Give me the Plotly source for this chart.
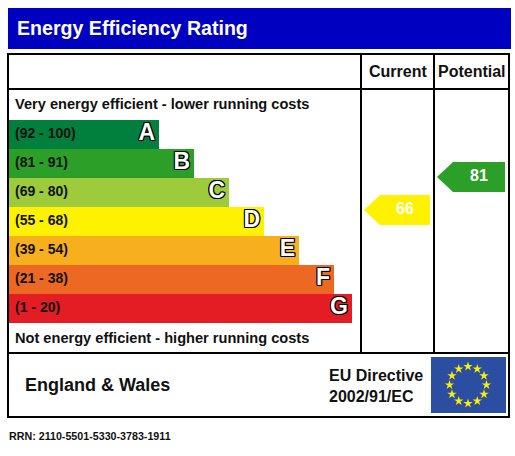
import math
import plotly.graph_objects as go

# ---- data ----
bands = ["A", "B", "C", "D", "E", "F", "G"]
band_ranges = ["(92 - 100)", "(81 - 91)", "(69 - 80)", "(55 - 68)",
               "(39 - 54)", "(21 - 38)", "(1 - 20)"]
band_colors = ["#007f3d", "#2c9f29", "#9dcb3c", "#fff200",
               "#f7af1d", "#ed6823", "#e31d23"]
columns = ["Current", "Potential"]
scores = [66, 81]
score_colors = ["#fff200", "#2c9f29"]
title = "Energy Efficiency Rating"
top_note = "Very energy efficient - lower running costs"
bottom_note = "Not energy efficient - higher running costs"
region = "England & Wales"
directive = ["EU Directive", "2002/91/EC"]
rrn = "RRN: 2110-5501-5330-3783-1911"

W, H = 515, 456
FONT = "Liberation Sans, Arial, sans-serif"

# band bar extents (pixels)
bar_left = 9
bar_ends = [min(159 + 35 * i, 352) for i in range(len(bands))]
bar_len = [e - bar_left for e in bar_ends]

# column boundaries
col_x = [361, 434, 509]

fig = go.Figure()

# rating bands
fig.add_trace(go.Bar(
    orientation="h", y=bands, x=bar_len, base=bar_left,
    xaxis="x", yaxis="y2", width=0.97,
    marker=dict(color=band_colors, line=dict(width=0)),
    hoverinfo="skip", showlegend=False,
))
fig.add_trace(go.Scatter(
    x=[bar_left + 6] * len(bands), y=bands, xaxis="x", yaxis="y2",
    mode="text", text=band_ranges, textposition="middle right",
    textfont=dict(family=FONT, size=14, color="#111111", weight="bold"),
    hoverinfo="skip", showlegend=False,
))
fig.add_trace(go.Scatter(
    x=[e - 4 for e in bar_ends], y=bands, xaxis="x", yaxis="y2",
    mode="text", text=bands, textposition="middle left",
    textfont=dict(family=FONT, size=23, color="white", weight="bold",
                  shadow="1px 1px 0 #000, -1px -1px 0 #000, 1px -1px 0 #000, -1px 1px 0 #000, 0 1px 0 #000, 0 -1px 0 #000, 1px 0 0 #000, -1px 0 0 #000"),
    hoverinfo="skip", showlegend=False,
))

# score arrows on the score axis
half = 15 / 2.2
for i, (s, c) in enumerate(zip(scores, score_colors)):
    tip = col_x[i] + 3
    notch = tip + 16
    right = col_x[i + 1] - 4
    fig.add_trace(go.Scatter(
        x=[tip, notch, right, right, notch, tip],
        y=[s, s + half, s + half, s - half, s - half, s],
        xaxis="x", yaxis="y3", mode="lines", fill="toself",
        fillcolor=c, line=dict(width=0, color=c),
        hoverinfo="skip", showlegend=False,
    ))
    fig.add_trace(go.Scatter(
        x=[(notch + right) / 2], y=[s], xaxis="x", yaxis="y3",
        mode="text", text=[str(s)], textposition="middle center",
        textfont=dict(family=FONT, size=16, color="white", weight="bold"),
        hoverinfo="skip", showlegend=False,
    ))

# EU flag stars
cx, cy, r = 468, 385, 18.5
fig.add_trace(go.Scatter(
    x=[cx + r * math.sin(k * math.pi / 6) for k in range(12)],
    y=[cy - r * math.cos(k * math.pi / 6) for k in range(12)],
    xaxis="x", yaxis="y", mode="markers",
    marker=dict(symbol="star", size=7, color="#ffed00", line=dict(width=0)),
    hoverinfo="skip", showlegend=False,
))

line = dict(color="black", width=2)
shapes = [
    dict(type="rect", x0=8, x1=511, y0=8, y1=49, fillcolor="#0000c0",
         line=dict(width=0), layer="below"),
    dict(type="rect", x0=8, x1=509, y0=54, y1=417, line=line),
    dict(type="line", x0=8, x1=509, y0=89, y1=89, line=line),
    dict(type="line", x0=8, x1=509, y0=353, y1=353, line=line),
    dict(type="line", x0=col_x[0], x1=col_x[0], y0=54, y1=353, line=line),
    dict(type="line", x0=col_x[1], x1=col_x[1], y0=54, y1=353, line=line),
    dict(type="rect", x0=431, x1=506, y0=357, y1=413, fillcolor="#2c4ea0",
         line=dict(width=0), layer="below"),
]
for s in shapes:
    s.update(xref="x", yref="y")


def label(text, x, y, size, color="#111111", anchor="left"):
    return dict(text=text, x=x, y=y, xref="x", yref="y", showarrow=False,
                xanchor=anchor, yanchor="middle",
                font=dict(family=FONT, size=size, color=color, weight="bold"))


annotations = [
    label(title, 15, 28, 19.6, "white"),
    label(columns[0], (col_x[0] + col_x[1]) / 2, 71, 16, anchor="center"),
    label(columns[1], (col_x[1] + col_x[2]) / 2, 71, 16, anchor="center"),
    label(top_note, 13, 104, 14.6),
    label(bottom_note, 13, 338, 14.6),
    label(region, 23, 385, 18),
    label(directive[0], 327, 375, 16),
    label(directive[1], 327, 396, 16),
    label(rrn, 7, 436, 10.7),
]

hidden = dict(visible=False, showgrid=False, zeroline=False, fixedrange=True)
fig.update_layout(
    width=W, height=H, margin=dict(l=0, r=0, t=0, b=0),
    paper_bgcolor="white", plot_bgcolor="rgba(0,0,0,0)",
    xaxis=dict(range=[0, W], domain=[0, 1], **hidden),
    yaxis=dict(range=[H, 0], domain=[0, 1], **hidden),
    yaxis2=dict(type="category", categoryorder="array", categoryarray=bands,
                range=[len(bands) - 0.5, -0.5],
                domain=[(H - 323) / H, (H - 120) / H], anchor="x", **hidden),
    yaxis3=dict(range=[81 - (H - 177) / 2.2, 81 + 177 / 2.2],
                domain=[0, 1], anchor="x", **hidden),
    shapes=shapes, annotations=annotations,
    bargap=0, showlegend=False,
)

fig.write_html("out.html", config={"displayModeBar": False},
               post_script="document.body.style.margin='0';document.body.style.overflow='hidden';")
